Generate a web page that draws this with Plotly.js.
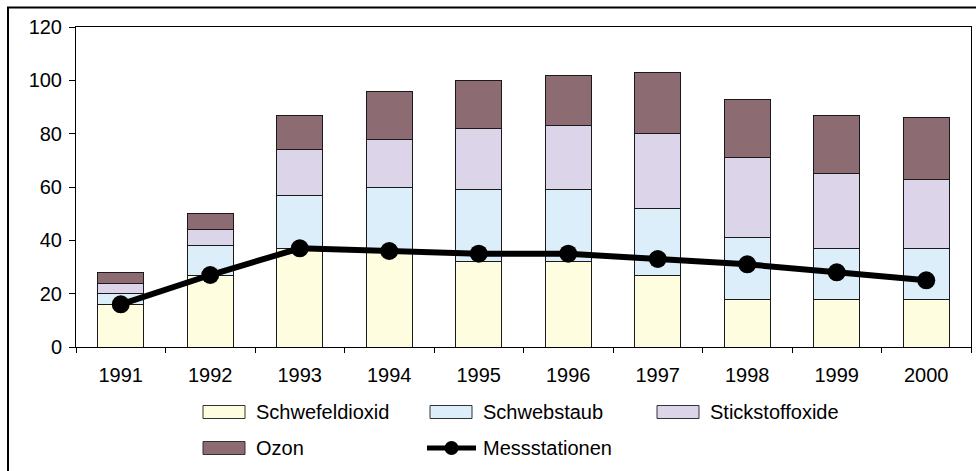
<!DOCTYPE html>
<html>
<head>
<meta charset="utf-8">
<script src="https://cdn.plot.ly/plotly-3.0.1.min.js"></script>
<style>
  html, body { margin: 0; padding: 0; background: #ffffff; }
  #chart { width: 977px; height: 471px; }
</style>
</head>
<body>
<div id="chart"></div>
<script>
// ---- data ----
const years = ['1991','1992','1993','1994','1995','1996','1997','1998','1999','2000'];
const schwefeldioxid = [16, 27, 37, 36, 32, 32, 27, 18, 18, 18];
const schwebstaub    = [ 4, 11, 20, 24, 27, 27, 25, 23, 19, 19];
const stickstoffoxide= [ 4,  6, 17, 18, 23, 24, 28, 30, 28, 26];
const ozon           = [ 4,  6, 13, 18, 18, 19, 23, 22, 22, 23];
const messstationen  = [16, 27, 37, 36, 35, 35, 33, 31, 28, 25];

const barNames  = ['Schwefeldioxid', 'Schwebstaub', 'Stickstoffoxide', 'Ozon'];
const lineName  = 'Messstationen';
const barColors = ['#FFFDE0', '#DCEEFA', '#DCD4E8', '#8C6B73'];

// ---- layout geometry (pixels) ----
const W = 977, H = 471;
const M = {l: 76, r: 6, t: 27, b: 124};
const PW = W - M.l - M.r, PH = H - M.t - M.b;
const px2x = px => (px - M.l) / PW;
const py2y = py => (H - M.b - py) / PH;

const FONT = 'Liberation Sans, Arial, sans-serif';
const FS = 20;

const barSeries = [schwefeldioxid, schwebstaub, stickstoffoxide, ozon];
const traces = barSeries.map((vals, i) => ({
  type: 'bar',
  name: barNames[i],
  x: years,
  y: vals,
  marker: {color: barColors[i], line: {color: '#1a1a1a', width: 1}},
  showlegend: false,
  hoverinfo: 'x+y+name'
}));
traces.push({
  type: 'scatter',
  mode: 'lines+markers',
  name: lineName,
  x: years,
  y: messstationen,
  line: {color: '#000000', width: 6},
  marker: {color: '#000000', size: 18},
  showlegend: false,
  cliponaxis: false
});

// ---- custom legend ----
const shapes = [];
const annotations = [];
// outer frame: only its left and top edges fall inside the picture
shapes.push({type: 'line', xref: 'paper', yref: 'paper',
  x0: px2x(8), x1: px2x(8), y0: py2y(7.5), y1: py2y(480),
  line: {color: '#000000', width: 2}});
shapes.push({type: 'line', xref: 'paper', yref: 'paper',
  x0: px2x(7), x1: px2x(976), y0: py2y(7.5), y1: py2y(7.5),
  line: {color: '#000000', width: 2}});

const legendItems = [
  {kind: 'bar', idx: 0, sx: 203, tx: 254, cy: 412},
  {kind: 'bar', idx: 1, sx: 430, tx: 481, cy: 412},
  {kind: 'bar', idx: 2, sx: 657, tx: 708, cy: 412},
  {kind: 'bar', idx: 3, sx: 203, tx: 254, cy: 448},
  {kind: 'line',        sx: 427, tx: 481, cy: 448}
];
legendItems.forEach(it => {
  if (it.kind === 'bar') {
    shapes.push({type: 'rect', xref: 'paper', yref: 'paper',
      x0: px2x(it.sx), x1: px2x(it.sx + 42), y0: py2y(it.cy + 6.5), y1: py2y(it.cy - 6.5),
      fillcolor: barColors[it.idx], line: {color: '#333333', width: 1}});
    annotations.push({xref: 'paper', yref: 'paper', x: px2x(it.tx), y: py2y(it.cy),
      xanchor: 'left', yanchor: 'middle', showarrow: false, text: barNames[it.idx],
      font: {family: FONT, size: FS, color: '#000'}});
  } else {
    shapes.push({type: 'line', xref: 'paper', yref: 'paper',
      x0: px2x(it.sx), x1: px2x(it.sx + 49), y0: py2y(it.cy), y1: py2y(it.cy),
      line: {color: '#000', width: 5}});
    const cx = it.sx + 24.5, r = 7;
    shapes.push({type: 'circle', xref: 'paper', yref: 'paper',
      x0: px2x(cx - r), x1: px2x(cx + r), y0: py2y(it.cy + r), y1: py2y(it.cy - r),
      fillcolor: '#000', line: {color: '#000', width: 0}});
    annotations.push({xref: 'paper', yref: 'paper', x: px2x(it.tx), y: py2y(it.cy),
      xanchor: 'left', yanchor: 'middle', showarrow: false, text: lineName,
      font: {family: FONT, size: FS, color: '#000'}});
  }
});

const layout = {
  width: W, height: H,
  margin: M,
  barmode: 'stack',
  bargap: 0.49,
  paper_bgcolor: '#ffffff',
  plot_bgcolor: '#ffffff',
  font: {family: FONT, size: FS, color: '#000'},
  showlegend: false,
  xaxis: {
    type: 'category',
    range: [-0.5, years.length - 0.5],
    autorange: false,
    tickson: 'boundaries',
    ticks: 'outside', ticklen: 5, tickcolor: '#000', tickwidth: 1,
    showline: true, linecolor: '#000', linewidth: 1, mirror: true,
    showgrid: false, zeroline: false,
    ticklabelstandoff: 10,
    tickfont: {family: FONT, size: FS, color: '#000'},
    fixedrange: true
  },
  yaxis: {
    range: [0, 120], autorange: false, dtick: 20, tick0: 0,
    ticks: 'outside', ticklen: 6, tickcolor: '#000', tickwidth: 1,
    showline: true, linecolor: '#000', linewidth: 1, mirror: true,
    showgrid: false, zeroline: false,
    ticklabelstandoff: 3,
    tickfont: {family: FONT, size: FS, color: '#000'},
    fixedrange: true
  },
  shapes: shapes,
  annotations: annotations
};

Plotly.newPlot('chart', traces, layout, {displayModeBar: false, staticPlot: true});
</script>
</body>
</html>
